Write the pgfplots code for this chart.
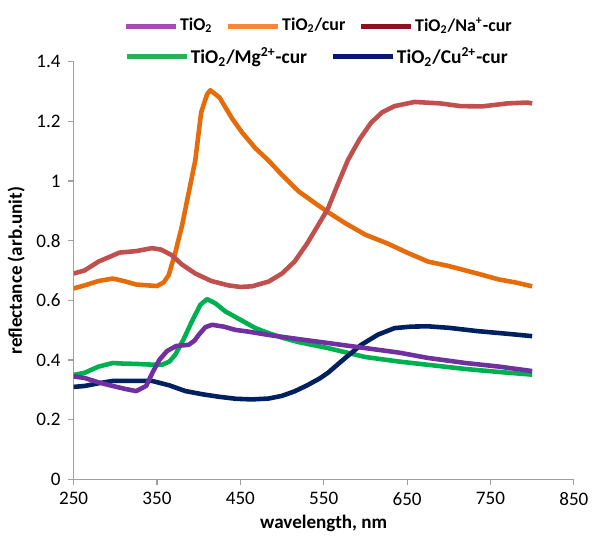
\documentclass[border=0pt]{standalone}
\usepackage{fontspec}
\setmainfont{Carlito}
\usepackage{pgfplots}
\pgfplotsset{compat=1.18}

\definecolor{cTi}{HTML}{7030A0}
\definecolor{cTiL}{HTML}{A24FB0}
\definecolor{cCur}{HTML}{E46C0A}
\definecolor{cCurL}{HTML}{F7863A}
\definecolor{cNa}{HTML}{C0504D}
\definecolor{cNaL}{HTML}{8E1023}
\definecolor{cMg}{HTML}{00B050}
\definecolor{cMgL}{HTML}{2DB04F}
\definecolor{cCu}{HTML}{002060}
\definecolor{cCuL}{HTML}{0A1670}
\definecolor{axgray}{HTML}{A0A0A0}

\pgfplotsset{
  legline/.style={
    legend image code/.code={\draw[##1,line width=2.5pt] (0pt,0pt) -- (#1,0pt);}},
  base/.style={
    scale only axis, width=251.5pt, height=210pt,
    xmin=250, xmax=850, ymin=0, ymax=1.4,
    at={(0,0)}, anchor=south west,
    font=\fontsize{9.6}{11}\selectfont,
  }
}

\begin{document}
\begin{tikzpicture}
\begin{axis}[base,
  axis lines=left,
  axis line style={-, axgray, line width=0.8pt},
  every tick/.style={axgray, line width=0.6pt},
  tick align=outside, major tick length=3pt,
  xtick={250,350,...,850},
  ytick={0,0.2,...,1.4},
  /pgf/number format/assume math mode=true,
  ticklabel style={font=\fontsize{9.6}{11}\selectfont, text=black},
  xlabel={\textbf{wavelength, nm}},
  ylabel={\textbf{reflectance (arb.unit)}},
  label style={font=\fontsize{9.6}{11}\selectfont},
  xlabel style={yshift=2pt},
  ylabel style={yshift=-1pt},
  legend columns=3,
  legend style={draw=none, fill=none, inner sep=0pt,
    at={(0.0994,1.085)}, anchor=west,
    font=\fontsize{9}{10}\selectfont\bfseries,
    nodes={inner sep=0.8pt},
    /tikz/every even column/.append style={column sep=6pt}},
  legend cell align=left,
  legline=25pt,
  every axis plot/.append style={line width=2.3pt, line join=round},
]
\addlegendimage{cTiL}
\addlegendentry{TiO\textsubscript{2}}
\addlegendimage{cCurL}
\addlegendentry{TiO\textsubscript{2}/cur}
\addlegendimage{cNaL}
\addlegendentry{TiO\textsubscript{2}/Na\textsuperscript{+}-cur}

% TiO2/cur
\addplot[cCur, forget plot] coordinates {
(250,0.64) (263,0.65) (280,0.665) (297,0.673) (310,0.665) (325,0.653) (340,0.65)
(350,0.648) (358,0.66) (364,0.684) (372,0.76) (380,0.85) (388,0.96) (396,1.07)
(403,1.23) (410,1.29) (414,1.304) (425,1.28) (440,1.21) (452,1.163) (468,1.11)
(484,1.068) (500,1.02) (520,0.965) (540,0.925) (555,0.896) (575,0.86) (600,0.82)
(627,0.79) (650,0.76) (675,0.73) (700,0.715) (734,0.69) (760,0.67) (780,0.66) (800,0.647)};
% TiO2/Na+-cur
\addplot[cNa, forget plot] coordinates {
(250,0.69) (263,0.70) (280,0.73) (305,0.76) (325,0.765) (344,0.775) (355,0.77)
(368,0.751) (380,0.72) (396,0.69) (415,0.665) (436,0.65) (450,0.645) (464,0.647)
(484,0.663) (500,0.69) (515,0.73) (530,0.79) (545,0.86) (555,0.907) (567,0.99)
(579,1.07) (593,1.14) (607,1.196) (620,1.23) (635,1.251) (659,1.265) (690,1.26)
(714,1.251) (740,1.25) (770,1.26) (794,1.263) (800,1.26)};
% TiO2/Mg2+-cur
\addplot[cMg, forget plot] coordinates {
(250,0.35) (263,0.357) (280,0.378) (297,0.39) (310,0.388) (325,0.387) (340,0.385)
(356,0.384) (365,0.395) (372,0.418) (382,0.47) (392,0.53) (402,0.585) (410,0.604)
(420,0.59) (432,0.563) (450,0.535) (468,0.507) (484,0.49) (500,0.475) (520,0.46)
(555,0.44) (600,0.41) (640,0.395) (675,0.384) (720,0.37) (760,0.36) (800,0.351)};
% TiO2/Cu2+-cur
\addplot[cCu, forget plot] coordinates {
(250,0.31) (263,0.313) (280,0.322) (297,0.33) (320,0.33) (344,0.33) (365,0.315)
(384,0.296) (405,0.285) (424,0.277) (445,0.27) (464,0.268) (484,0.271) (500,0.28)
(515,0.295) (530,0.315) (545,0.338) (555,0.357) (575,0.405) (595,0.451) (615,0.485)
(635,0.507) (655,0.512) (675,0.513) (700,0.508) (734,0.497) (770,0.488) (800,0.48)};
% TiO2
\addplot[cTi, forget plot] coordinates {
(250,0.345) (263,0.34) (280,0.325) (297,0.313) (312,0.303) (325,0.296) (337,0.313)
(345,0.36) (353,0.401) (362,0.43) (373,0.447) (388,0.451) (395,0.465) (400,0.484)
(408,0.51) (416,0.518) (430,0.512) (444,0.501) (460,0.495) (484,0.484) (520,0.47)
(555,0.457) (600,0.44) (640,0.425) (675,0.407) (720,0.39) (760,0.378) (800,0.363)};
\end{axis}

\begin{axis}[base, hide axis,
  legend columns=2,
  legend style={draw=none, fill=none, inner sep=0pt,
    at={(0.101,1.012)}, anchor=west,
    font=\fontsize{9.8}{11}\selectfont\bfseries,
    nodes={inner sep=0.8pt},
    /tikz/every even column/.append style={column sep=11pt}},
  legend cell align=left,
  legline=30pt,
]
\addlegendimage{cMgL}
\addlegendentry{TiO\textsubscript{2}/Mg\textsuperscript{2+}-cur}
\addlegendimage{cCuL}
\addlegendentry{TiO\textsubscript{2}/Cu\textsuperscript{2+}-cur}
\end{axis}

\path[use as bounding box] (-37pt,-34.5pt) rectangle (260.5pt,241pt);
\end{tikzpicture}
\end{document}
